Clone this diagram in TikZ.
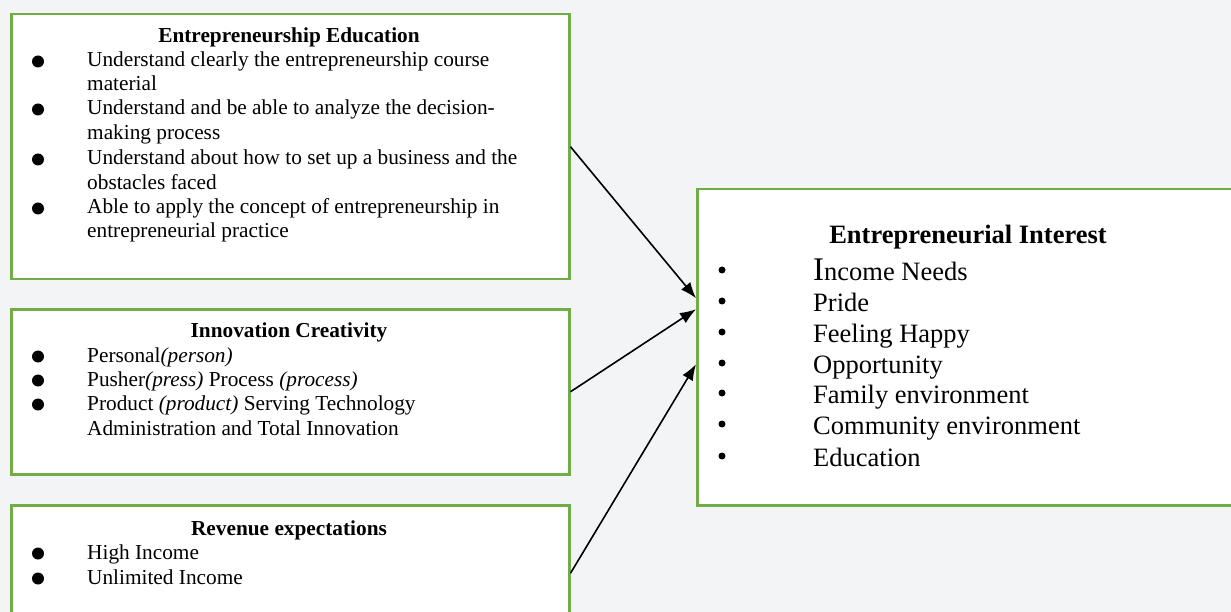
\documentclass[tikz,border=0pt]{standalone}
\usepackage{fontspec}
\setmainfont{Liberation Serif}
\usetikzlibrary{arrows.meta}
\definecolor{bg}{HTML}{F3F4F5}
\definecolor{grn}{HTML}{70AD47}
\tikzset{
  box/.style={draw=grn, line width=2.5pt, fill=white, rectangle, inner sep=0pt, anchor=north west},
  ttl/.style={anchor=base, inner sep=0pt, font=\fontsize{21.3}{24}\selectfont\bfseries},
  itm/.style={anchor=base west, inner sep=0pt, font=\fontsize{21.3}{24}\selectfont},
  bigttl/.style={anchor=base, inner sep=0pt, font=\fontsize{26.5}{31}\selectfont\bfseries},
  bigitm/.style={anchor=base west, inner sep=0pt, font=\fontsize{26.5}{31}\selectfont},
  dot/.style={circle, fill=black, inner sep=0pt, minimum size=12pt},
  smalldot/.style={circle, fill=black, inner sep=0pt, minimum size=7pt},
  arr/.style={-{Latex[length=16pt,width=12pt]}, line width=1.6pt, black},
}
\begin{document}
\begin{tikzpicture}[x=1pt,y=-1pt]
\useasboundingbox (0,0) rectangle (1231,612);
\clip (0,0) rectangle (1231,612);
\fill[bg] (0,0) rectangle (1231,612);

% boxes
\node[box, minimum width=558pt, minimum height=265pt] (b1) at (10,13) {};
\node[box, minimum width=558pt, minimum height=165pt] (b2) at (10,308) {};
\node[box, minimum width=558pt, minimum height=136pt] (b3) at (10,504) {};
\node[box, minimum width=544pt, minimum height=316pt] (b4) at (696,188) {};

% box 1
\node[ttl] (t1) at (289,43) {Entrepreneurship Education};
\node[dot] (d11) at (38,61.5) {};
\node[itm] (i11) at (87,67) {Understand clearly the entrepreneurship course};
\node[itm] (i12) at (87,91) {material};
\node[dot] (d12) at (38,109.5) {};
\node[itm] (i13) at (87,115) {Understand and be able to analyze the decision-};
\node[itm] (i14) at (87,140) {making process};
\node[dot] (d13) at (38,159.5) {};
\node[itm] (i15) at (87,165) {Understand about how to set up a business and the};
\node[itm] (i16) at (87,190) {obstacles faced};
\node[dot] (d14) at (38,208.5) {};
\node[itm] (i17) at (87,214) {Able to apply the concept of entrepreneurship in};
\node[itm] (i18) at (87,238) {entrepreneurial practice};

% box 2
\node[ttl] (t2) at (289,337) {Innovation Creativity};
\node[dot] (d21) at (38,356.5) {};
\node[itm] (i21) at (87,362) {Personal\textit{(person)}};
\node[dot] (d22) at (38,380.5) {};
\node[itm] (i22) at (87,386) {Pusher\textit{(press)} Process \textit{(process)}};
\node[dot] (d23) at (38,404.5) {};
\node[itm] (i23) at (87,410) {Product \textit{(product)} Serving Technology};
\node[itm] (i24) at (87,435) {Administration and Total Innovation};

% box 3
\node[ttl] (t3) at (289,535) {Revenue expectations};
\node[dot] (d31) at (38,553.5) {};
\node[itm] (i31) at (87,559) {High Income};
\node[dot] (d32) at (38,578.5) {};
\node[itm] (i32) at (87,584) {Unlimited Income};

% box 4
\node[bigttl] (t4) at (968,244) {Entrepreneurial Interest};
\node[smalldot] (d41) at (722,270) {};
\node[bigitm] (i41) at (813,280) {{\fontsize{33}{31}\selectfont I}ncome Needs};
\node[smalldot] (d42) at (722,301) {};
\node[bigitm] (i42) at (813,311) {Pride};
\node[smalldot] (d43) at (722,332) {};
\node[bigitm] (i43) at (813,342) {Feeling Happy};
\node[smalldot] (d44) at (722,363) {};
\node[bigitm] (i44) at (813,373) {Opportunity};
\node[smalldot] (d45) at (722,393) {};
\node[bigitm] (i45) at (813,403) {Family environment};
\node[smalldot] (d46) at (722,424) {};
\node[bigitm] (i46) at (813,434) {Community environment};
\node[smalldot] (d47) at (722,456) {};
\node[bigitm] (i47) at (813,466) {Education};

% arrow targets
\coordinate (e1) at ([yshift=49pt]b4.west);
\coordinate (e2) at ([yshift=38pt]b4.west);
\coordinate (e3) at ([yshift=-17pt]b4.west);

\draw[arr] (b1.east) -- (e1);
\draw[arr] (b2.east) -- (e2);
\draw[arr] (b3.east) -- (e3);
\end{tikzpicture}
\end{document}
